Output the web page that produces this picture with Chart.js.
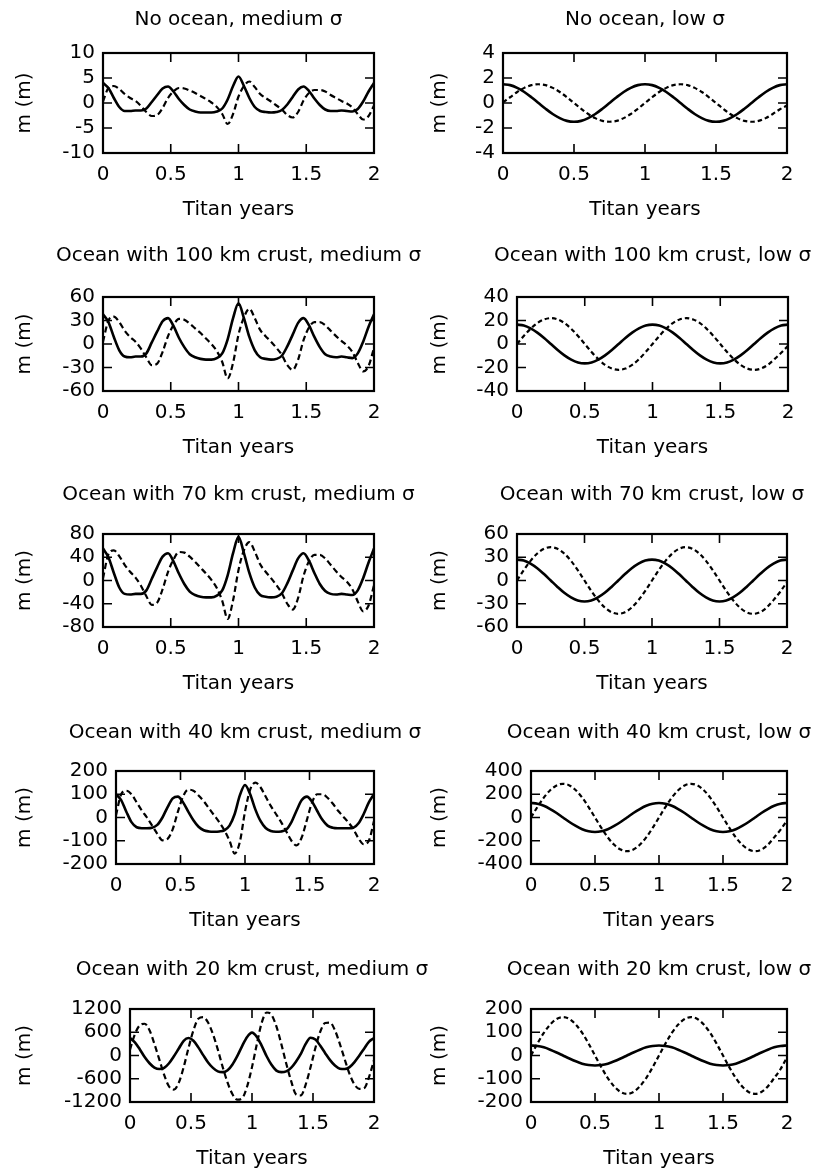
<!DOCTYPE html>
<html>
<head>
<meta charset="utf-8">
<script src="https://cdn.jsdelivr.net/npm/chart.js@4.4.1/dist/chart.umd.min.js"></script>
<style>
  html, body { margin: 0; padding: 0; background: #fff; }
  #painel { position: relative; width: 814px; height: 1169px; overflow: hidden; }
  #painel canvas { position: absolute; }
</style>
</head>
<body>
<div id="painel"></div>
<script>
// eixo x (anos de Titã)
const tMed = [0, 0.04, 0.08, 0.12, 0.16, 0.2, 0.24, 0.28, 0.32, 0.36, 0.4, 0.44, 0.48,
  0.52, 0.56, 0.6, 0.64, 0.68, 0.72, 0.76, 0.8, 0.84, 0.88, 0.92, 0.96, 1,
  1.04, 1.08, 1.12, 1.16, 1.2, 1.24, 1.28, 1.32, 1.36, 1.4, 1.44, 1.48, 1.52,
  1.56, 1.6, 1.64, 1.68, 1.72, 1.76, 1.8, 1.84, 1.88, 1.92, 1.96, 2]
const tLow = [0, 0.05, 0.1, 0.15, 0.2, 0.25, 0.3, 0.35, 0.4, 0.45,
  0.5, 0.55, 0.6, 0.65, 0.7, 0.75, 0.8, 0.85, 0.9, 0.95,
  1, 1.05, 1.1, 1.15, 1.2, 1.25, 1.3, 1.35, 1.4, 1.45,
  1.5, 1.55, 1.6, 1.65, 1.7, 1.75, 1.8, 1.85, 1.9, 1.95, 2]

// sigma médio
const noOceanMedSolid = [4.0, 3.0, 1.0, -0.8, -1.6, -1.6, -1.5, -1.5, -1.1, 0.2, 1.6, 2.9, 3.3,
  2.3, 0.8, -0.4, -1.3, -1.7, -1.9, -1.9, -1.9, -1.7, -1.1, 0.7, 3.4, 5.3,
  3.4, 1.0, -0.8, -1.6, -1.8, -1.9, -1.8, -1.4, -0.3, 1.2, 2.7, 3.3, 2.4,
  0.9, -0.4, -1.3, -1.6, -1.6, -1.5, -1.6, -1.7, -1.2, 0.3, 2.3, 4.0]
const noOceanMedDashed = [0.3, 3.0, 3.4, 2.8, 1.8, 1.0, 0.4, -0.6, -1.8, -2.6, -2.4, -1.0, 1.0,
  2.3, 3.0, 2.9, 2.5, 2.0, 1.4, 0.8, 0.1, -0.8, -2.2, -4.2, -2.2, 1.3,
  3.4, 4.3, 3.2, 1.8, 1.0, 0.3, -0.5, -1.3, -2.4, -2.9, -1.8, 0.5, 2.0,
  2.6, 2.6, 2.3, 1.6, 1.0, 0.4, -0.1, -0.9, -2.2, -3.3, -2.6, -0.5]

const crust100MedSolid = [38, 28, 9, -8, -16, -17, -16, -16, -12, 2, 16, 29, 33,
  23, 8, -4, -13, -17, -19, -20, -20, -18, -12, 6, 33, 52,
  33, 9, -8, -17, -19, -20, -19, -15, -3, 12, 27, 33, 24,
  9, -4, -13, -16, -17, -16, -17, -18, -12, 3, 22, 38]
const crust100MedDashed = [3, 30, 35, 28, 17, 9, 3, -6, -17, -27, -25, -10, 10,
  24, 32, 31, 26, 20, 14, 7, 0, -9, -23, -44, -24, 12,
  34, 45, 33, 18, 10, 3, -5, -14, -27, -33, -20, 5, 21,
  28, 28, 24, 17, 10, 4, -2, -10, -24, -35, -28, -5]

const crust70MedSolid = [55, 40, 13, -12, -23, -24, -23, -23, -17, 3, 23, 41, 47,
  33, 12, -6, -19, -25, -28, -29, -29, -26, -17, 9, 47, 75,
  47, 13, -12, -25, -28, -29, -28, -22, -5, 17, 38, 47, 34,
  13, -6, -18, -23, -24, -23, -24, -25, -17, 4, 31, 55]
const crust70MedDashed = [4, 45, 52, 42, 27, 15, 5, -9, -27, -42, -38, -15, 15,
  36, 49, 48, 41, 32, 22, 12, 1, -13, -35, -66, -34, 18,
  52, 66, 50, 28, 15, 4, -8, -22, -40, -50, -30, 8, 33,
  44, 44, 38, 27, 16, 6, -2, -15, -36, -53, -43, -8]

const crust40MedSolid = [100, 75, 25, -20, -42, -46, -46, -44, -32, 0, 45, 82, 90,
  65, 25, -12, -40, -55, -60, -61, -60, -55, -35, 15, 95, 140,
  100, 35, -15, -45, -58, -61, -60, -52, -20, 30, 75, 90, 68,
  28, -10, -35, -44, -46, -46, -46, -44, -25, 15, 65, 100]
const crust40MedDashed = [10, 100, 115, 100, 65, 30, 0, -35, -70, -98, -92, -50, 25,
  90, 120, 115, 95, 70, 40, 10, -20, -55, -100, -155, -105, 25,
  120, 150, 130, 90, 50, 15, -20, -60, -100, -120, -85, -10, 65,
  100, 100, 85, 60, 30, 5, -20, -50, -90, -115, -100, -15]

const crust20MedSolid = [450, 340, 160, -40, -200, -310, -350, -320, -200, -20, 180, 380, 450,
  380, 210, 10, -180, -320, -410, -430, -380, -230, -10, 250, 480, 590,
  480, 250, -20, -240, -390, -430, -410, -320, -160, 40, 300, 460, 410,
  250, 60, -120, -260, -340, -350, -300, -170, 0, 180, 360, 450]
const crust20MedDashed = [150, 550, 780, 820, 650, 300, -100, -500, -800, -880, -700, -300, 200,
  650, 950, 990, 850, 550, 150, -300, -700, -1000, -1140, -1100, -800, -300,
  300, 850, 1110, 1050, 750, 300, -200, -650, -1000, -1030, -750, -300, 200,
  620, 840, 850, 650, 300, -100, -480, -750, -860, -840, -550, -120]

// sigma baixo
const noOceanLowSolid = [1.5, 1.43, 1.21, 0.88, 0.46, 0, -0.46, -0.88, -1.21, -1.43,
  -1.5, -1.43, -1.21, -0.88, -0.46, 0, 0.46, 0.88, 1.21, 1.43,
  1.5, 1.43, 1.21, 0.88, 0.46, 0, -0.46, -0.88, -1.21, -1.43,
  -1.5, -1.43, -1.21, -0.88, -0.46, 0, 0.46, 0.88, 1.21, 1.43, 1.5]
const noOceanLowDashed = [0.05, 0.46, 0.88, 1.21, 1.43, 1.5, 1.43, 1.21, 0.88, 0.46,
  0, -0.46, -0.88, -1.21, -1.43, -1.5, -1.43, -1.21, -0.88, -0.46,
  0, 0.46, 0.88, 1.21, 1.43, 1.5, 1.43, 1.21, 0.88, 0.46,
  0, -0.46, -0.88, -1.21, -1.43, -1.5, -1.43, -1.21, -0.88, -0.5, -0.2]

const crust100LowSolid = [16.5, 15.7, 13.3, 9.7, 5.1, 0, -5.1, -9.7, -13.3, -15.7,
  -16.5, -15.7, -13.3, -9.7, -5.1, 0, 5.1, 9.7, 13.3, 15.7,
  16.5, 15.7, 13.3, 9.7, 5.1, 0, -5.1, -9.7, -13.3, -15.7,
  -16.5, -15.7, -13.3, -9.7, -5.1, 0, 5.1, 9.7, 13.3, 15.7, 16.5]
const crust100LowDashed = [0, 6.8, 12.9, 17.8, 20.9, 22, 20.9, 17.8, 12.9, 6.8,
  0, -6.8, -12.9, -17.8, -20.9, -22, -20.9, -17.8, -12.9, -6.8,
  0, 6.8, 12.9, 17.8, 20.9, 22, 20.9, 17.8, 12.9, 6.8,
  0, -6.8, -12.9, -17.8, -20.9, -22, -20.9, -17.8, -12.9, -7.5, -1.5]

const crust70LowSolid = [27, 25.7, 21.8, 15.9, 8.3, 0, -8.3, -15.9, -21.8, -25.7,
  -27, -25.7, -21.8, -15.9, -8.3, 0, 8.3, 15.9, 21.8, 25.7,
  27, 25.7, 21.8, 15.9, 8.3, 0, -8.3, -15.9, -21.8, -25.7,
  -27, -25.7, -21.8, -15.9, -8.3, 0, 8.3, 15.9, 21.8, 25.7, 27]
const crust70LowDashed = [0, 13.3, 25.3, 34.8, 40.9, 43, 40.9, 34.8, 25.3, 13.3,
  0, -13.3, -25.3, -34.8, -40.9, -43, -40.9, -34.8, -25.3, -13.3,
  0, 13.3, 25.3, 34.8, 40.9, 43, 40.9, 34.8, 25.3, 13.3,
  0, -13.3, -25.3, -34.8, -40.9, -43, -40.9, -34.8, -25.3, -14.5, -2]

const crust40LowSolid = [125, 119, 101, 73, 39, 0, -39, -73, -101, -119,
  -125, -119, -101, -73, -39, 0, 39, 73, 101, 119,
  125, 119, 101, 73, 39, 0, -39, -73, -101, -119,
  -125, -119, -101, -73, -39, 0, 39, 73, 101, 119, 125]
const crust40LowDashed = [0, 90, 171, 235, 276, 290, 276, 235, 171, 90,
  0, -90, -171, -235, -276, -290, -276, -235, -171, -90,
  0, 90, 171, 235, 276, 290, 276, 235, 171, 90,
  0, -90, -171, -235, -276, -290, -276, -235, -171, -105, -25]

const crust20LowSolid = [43, 41, 35, 25, 13, 0, -13, -25, -35, -41,
  -43, -41, -35, -25, -13, 0, 13, 25, 35, 41,
  43, 41, 35, 25, 13, 0, -13, -25, -35, -41,
  -43, -41, -35, -25, -13, 0, 13, 25, 35, 41, 43]
const crust20LowDashed = [0, 51, 97, 133, 157, 165, 157, 133, 97, 51,
  0, -51, -97, -133, -157, -165, -157, -133, -97, -51,
  0, 51, 97, 133, 157, 165, 157, 133, 97, 51,
  0, -51, -97, -133, -157, -165, -157, -133, -97, -58, -8]

// layout: caixa do gráfico [esq, topo, dir, base] em px da página
const paineis = [
  { titulo: 'No ocean, medium σ', t: tMed, cheia: noOceanMedSolid, tracejada: noOceanMedDashed, y: [-10, 10, 5], col: 0, caixa: [103, 53, 374, 153], gap: 33.5 },
  { titulo: 'No ocean, low σ', t: tLow, cheia: noOceanLowSolid, tracejada: noOceanLowDashed, y: [-4, 4, 2], col: 1, caixa: [503, 53, 787, 153], gap: 33.5 },
  { titulo: 'Ocean with 100 km crust, medium σ', t: tMed, cheia: crust100MedSolid, tracejada: crust100MedDashed, y: [-60, 60, 30], col: 0, caixa: [103, 297, 374, 391], gap: 41 },
  { titulo: 'Ocean with 100 km crust, low σ', t: tLow, cheia: crust100LowSolid, tracejada: crust100LowDashed, y: [-40, 40, 20], col: 1, caixa: [517, 297, 788, 391], gap: 41 },
  { titulo: 'Ocean with 70 km crust, medium σ', t: tMed, cheia: crust70MedSolid, tracejada: crust70MedDashed, y: [-80, 80, 40], col: 0, caixa: [103, 534, 374, 627], gap: 39 },
  { titulo: 'Ocean with 70 km crust, low σ', t: tLow, cheia: crust70LowSolid, tracejada: crust70LowDashed, y: [-60, 60, 30], col: 1, caixa: [517, 534, 787, 627], gap: 39 },
  { titulo: 'Ocean with 40 km crust, medium σ', t: tMed, cheia: crust40MedSolid, tracejada: crust40MedDashed, y: [-200, 200, 100], col: 0, caixa: [116, 771, 374, 864], gap: 38 },
  { titulo: 'Ocean with 40 km crust, low σ', t: tLow, cheia: crust40LowSolid, tracejada: crust40LowDashed, y: [-400, 400, 200], col: 1, caixa: [531, 771, 787, 864], gap: 38 },
  { titulo: 'Ocean with 20 km crust, medium σ', t: tMed, cheia: crust20MedSolid, tracejada: crust20MedDashed, y: [-1200, 1200, 600], col: 0, caixa: [130, 1009, 374, 1102], gap: 39 },
  { titulo: 'Ocean with 20 km crust, low σ', t: tLow, cheia: crust20LowSolid, tracejada: crust20LowDashed, y: [-200, 200, 100], col: 1, caixa: [531, 1009, 787, 1102], gap: 39 }
]

const FONTE = '"DejaVu Sans", sans-serif'
const TICK = 9

Chart.defaults.font.family = FONTE
Chart.defaults.font.size = 20
Chart.defaults.color = '#000'

// título centrado na área do gráfico, sem compressão de largura
const tituloPainel = {
  id: 'tituloPainel',
  afterDraw(chart, args, opts) {
    const { ctx, chartArea: a } = chart
    ctx.save()
    ctx.font = `20px ${FONTE}`
    ctx.fillStyle = '#000'
    ctx.textAlign = 'center'
    ctx.textBaseline = 'middle'
    ctx.fillText(opts.text, (a.left + a.right) / 2, a.top - opts.gap)
    ctx.restore()
  }
}

// moldura + marcas para dentro nos quatro lados
const moldura = {
  id: 'moldura',
  afterDraw(chart) {
    const { ctx, chartArea: a, scales: { x, y } } = chart
    ctx.save()
    ctx.strokeStyle = '#000'
    ctx.lineWidth = 1.6
    ctx.beginPath()
    x.ticks.forEach(t => {
      const px = x.getPixelForValue(t.value)
      ctx.moveTo(px, a.bottom); ctx.lineTo(px, a.bottom - TICK)
      ctx.moveTo(px, a.top); ctx.lineTo(px, a.top + TICK)
    })
    y.ticks.forEach(t => {
      const py = y.getPixelForValue(t.value)
      ctx.moveTo(a.left, py); ctx.lineTo(a.left + TICK, py)
      ctx.moveTo(a.right, py); ctx.lineTo(a.right - TICK, py)
    })
    ctx.stroke()
    ctx.lineWidth = 2.2
    ctx.strokeRect(a.left, a.top, a.right - a.left, a.bottom - a.top)
    ctx.restore()
  }
}

function serie(t, v, dash, largura) {
  return {
    data: t.map((x, i) => ({ x, y: v[i] })),
    borderColor: '#000',
    borderWidth: largura,
    borderDash: dash,
    pointRadius: 0,
    fill: false,
    cubicInterpolationMode: 'monotone'
  }
}

function montarPainel(p) {
  const wrap = document.getElementById('painel')
  const [bl, bt, br, bb] = p.caixa
  const left = p.col === 0 ? 0 : 405
  const width = p.col === 0 ? 440 : 409
  const top = bt - 53
  const height = bb - top + 75
  const [yMin, yMax, yStep] = p.y
  const medio = p.t === tMed

  const canvas = document.createElement('canvas')
  canvas.width = width
  canvas.height = height
  canvas.style.left = left + 'px'
  canvas.style.top = top + 'px'
  wrap.appendChild(canvas)

  new Chart(canvas, {
    type: 'line',
    data: {
      datasets: [
        serie(p.t, p.cheia, [], 2.6),
        serie(p.t, p.tracejada, medio ? [6, 3.5] : [4.5, 3], 2.2)
      ]
    },
    options: {
      responsive: false,
      animation: false,
      layout: { padding: { left: 0, top: 53, right: left + width - br, bottom: 0 } },
      plugins: {
        legend: { display: false },
        tooltip: { enabled: false },
        title: { display: false },
        tituloPainel: { text: p.titulo, gap: p.gap }
      },
      scales: {
        x: {
          type: 'linear',
          min: 0,
          max: 2,
          grid: { display: false, drawTicks: false },
          border: { display: false },
          ticks: { stepSize: 0.5, padding: 10, maxRotation: 0, autoSkip: false, callback: v => String(v) },
          title: { display: true, text: 'Titan years', padding: { top: 0, bottom: 6 } },
          afterFit: s => { s.height = 75 }
        },
        y: {
          type: 'linear',
          min: yMin,
          max: yMax,
          grid: { display: false, drawTicks: false },
          border: { display: false },
          ticks: { stepSize: yStep, padding: 8, autoSkip: false, callback: v => String(v) },
          title: { display: true, text: 'm (m)', padding: { top: p.col === 0 ? 13 : 23, bottom: 0 } },
          afterFit: s => { s.width = bl - left }
        }
      }
    },
    plugins: [tituloPainel, moldura]
  })
}

paineis.forEach(montarPainel)
</script>
</body>
</html>
